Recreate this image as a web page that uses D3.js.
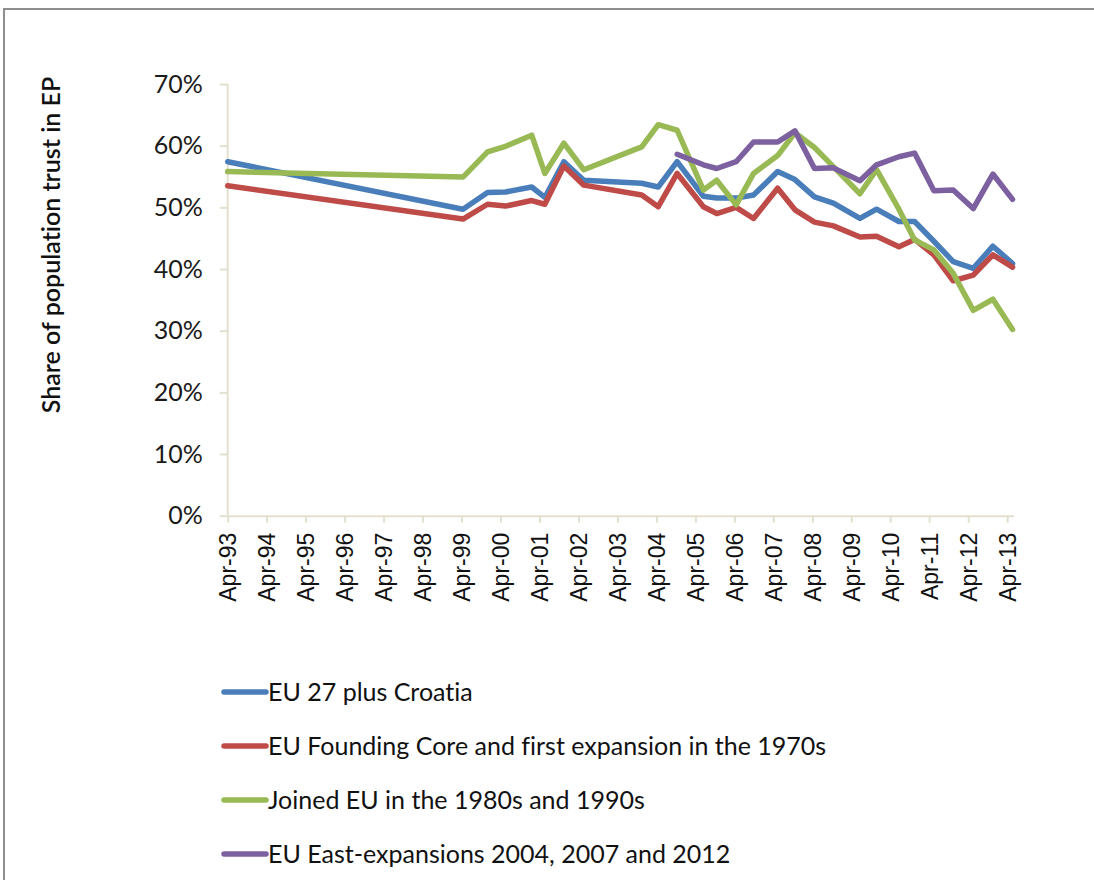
<!DOCTYPE html>
<html lang="en">
<head>
<meta charset="utf-8">
<title>Trust in EP</title>
<script src="https://d3js.org/d3.v7.min.js"></script>
<style>
  body { margin: 0; background: #fff; }
  svg { display: block; }
  text { font-variant-ligatures: none; }
</style>
</head>
<body>
<script>
// survey dates (Eurobarometer waves)
var dates = ["1993-04-01","1999-04-15","1999-12-01","2000-05-18","2001-01-18","2001-05-21",
  "2001-11-15","2002-05-21","2003-11-15","2004-04-18","2004-10-12","2005-06-15","2005-10-18",
  "2006-04-18","2006-09-28","2007-05-12","2007-10-21","2008-04-21","2008-10-15","2009-06-21",
  "2009-11-24","2010-06-21","2010-11-15","2011-05-15","2011-11-12","2012-05-18","2012-11-18",
  "2013-05-21"];

var eu27 = [57.4,49.7,52.4,52.5,53.3,51.6,57.4,54.4,53.9,53.3,57.4,51.8,51.5,51.5,52.0,55.8,
  54.5,51.7,50.7,48.2,49.7,47.7,47.7,44.5,41.2,40.1,43.7,40.9];
var founding = [53.5,48.1,50.5,50.2,51.1,50.5,56.7,53.6,52.0,50.1,55.5,50.1,49.0,50.0,48.2,53.1,
  49.6,47.6,47.0,45.2,45.3,43.6,44.8,42.3,38.1,39.0,42.3,40.3];
var joined8090 = [55.8,54.9,59.0,59.9,61.7,55.5,60.4,56.1,59.8,63.4,62.5,52.8,54.4,50.4,55.5,58.4,
  62.1,59.7,56.6,52.2,56.1,49.7,44.7,43.1,39.3,33.3,35.1,30.2];
var eastExp = [null,null,null,null,null,null,null,null,null,null,58.6,56.9,56.3,57.4,60.6,60.6,
  62.4,56.3,56.4,54.3,56.9,58.2,58.8,52.7,52.8,49.8,55.4,51.3];

var seriesNames = ["EU 27 plus Croatia",
  "EU Founding Core and first expansion in the 1970s",
  "Joined EU in the 1980s and 1990s",
  "EU East-expansions 2004, 2007 and 2012"];
var seriesColors = ["#4a7ebb","#be4b48","#98b954","#7d60a0"];
var yTicks = [0,10,20,30,40,50,60,70];

var w = 1094, h = 880;
var plotLeft = 227.7, plotRight = 1013.7, plotTop = 84, plotBottom = 515.7;

var parse = d3.timeParse("%Y-%m-%d");
var dateVals = dates.map(parse);
var allSeries = [eu27, founding, joined8090, eastExp];

var x = d3.scaleTime()
  .domain([new Date(1993, 3, 1), new Date(2013, 5, 1)])
  .range([plotLeft, plotRight]);
var y = d3.scaleLinear().domain([0, 70]).range([plotBottom, plotTop]);

var svg = d3.select("body").append("svg")
  .attr("width", w).attr("height", h);

svg.append("rect").attr("width", w).attr("height", h).attr("fill", "#fff");
// outer frame
svg.append("rect")
  .attr("x", 4).attr("y", 9).attr("width", 1200).attr("height", 1000)
  .attr("fill", "none").attr("stroke", "#8e8e8e").attr("stroke-width", 2);

var axisColor = "#e4e0d0";

// y axis
var yAxis = svg.append("g")
  .attr("transform", "translate(" + plotLeft + ",0)")
  .call(d3.axisLeft(y).tickValues(yTicks).tickSize(8).tickPadding(17)
    .tickFormat(function (d) { return d + "%"; }));
yAxis.selectAll("path,line").attr("stroke", axisColor).attr("stroke-width", 2);
yAxis.select(".domain").attr("d", "M0," + plotTop + "V" + plotBottom);
yAxis.selectAll("text")
  .attr("font-family", "Lato, sans-serif").attr("font-size", 25).attr("fill", "#1a1a1a");

// x axis
var xTicks = d3.range(1993, 2014).map(function (yr) { return new Date(yr, 3, 1); });
var xAxis = svg.append("g")
  .attr("transform", "translate(0," + plotBottom + ")")
  .call(d3.axisBottom(x).tickValues(xTicks).tickSize(7).tickSizeOuter(0)
    .tickFormat(d3.timeFormat("%b-%y")));
xAxis.selectAll("path,line").attr("stroke", axisColor).attr("stroke-width", 2);
xAxis.selectAll("text")
  .attr("font-family", "'Liberation Sans', Arial, sans-serif").attr("font-size", 23)
  .attr("fill", "#111")
  .attr("text-anchor", "end")
  .attr("transform", "rotate(-90)")
  .attr("x", -17).attr("y", 0).attr("dy", "0.36em");

// y title
svg.append("text")
  .attr("transform", "translate(60,245) rotate(-90)")
  .attr("text-anchor", "middle")
  .attr("font-family", "Lato, sans-serif").attr("font-size", 25).attr("font-weight", 600)
  .attr("fill", "#111")
  .text("Share of population trust in EP");

// lines
var line = d3.line()
  .defined(function (d) { return d.v != null; })
  .x(function (d) { return x(d.date); })
  .y(function (d) { return y(d.v); });

allSeries.forEach(function (vals, i) {
  var pts = vals.map(function (v, j) { return { date: dateVals[j], v: v }; });
  svg.append("path")
    .datum(pts)
    .attr("fill", "none")
    .attr("stroke", seriesColors[i])
    .attr("stroke-width", 5.5)
    .attr("stroke-linejoin", "round")
    .attr("stroke-linecap", "round")
    .attr("d", line);
});

// legend
var legend = svg.selectAll("g.leg")
  .data(seriesNames)
  .enter().append("g")
  .attr("class", "leg")
  .attr("transform", function (d, i) { return "translate(222," + (692 + i * 54) + ")"; });
legend.append("line")
  .attr("x1", 2).attr("x2", 44).attr("y1", 0).attr("y2", 0)
  .attr("stroke", function (d, i) { return seriesColors[i]; })
  .attr("stroke-width", 5.5).attr("stroke-linecap", "round");
legend.append("text")
  .attr("x", 46).attr("dy", "0.35em")
  .attr("font-family", "Lato, sans-serif").attr("font-size", 25).attr("fill", "#111")
  .text(function (d) { return d; });
</script>
</body>
</html>
